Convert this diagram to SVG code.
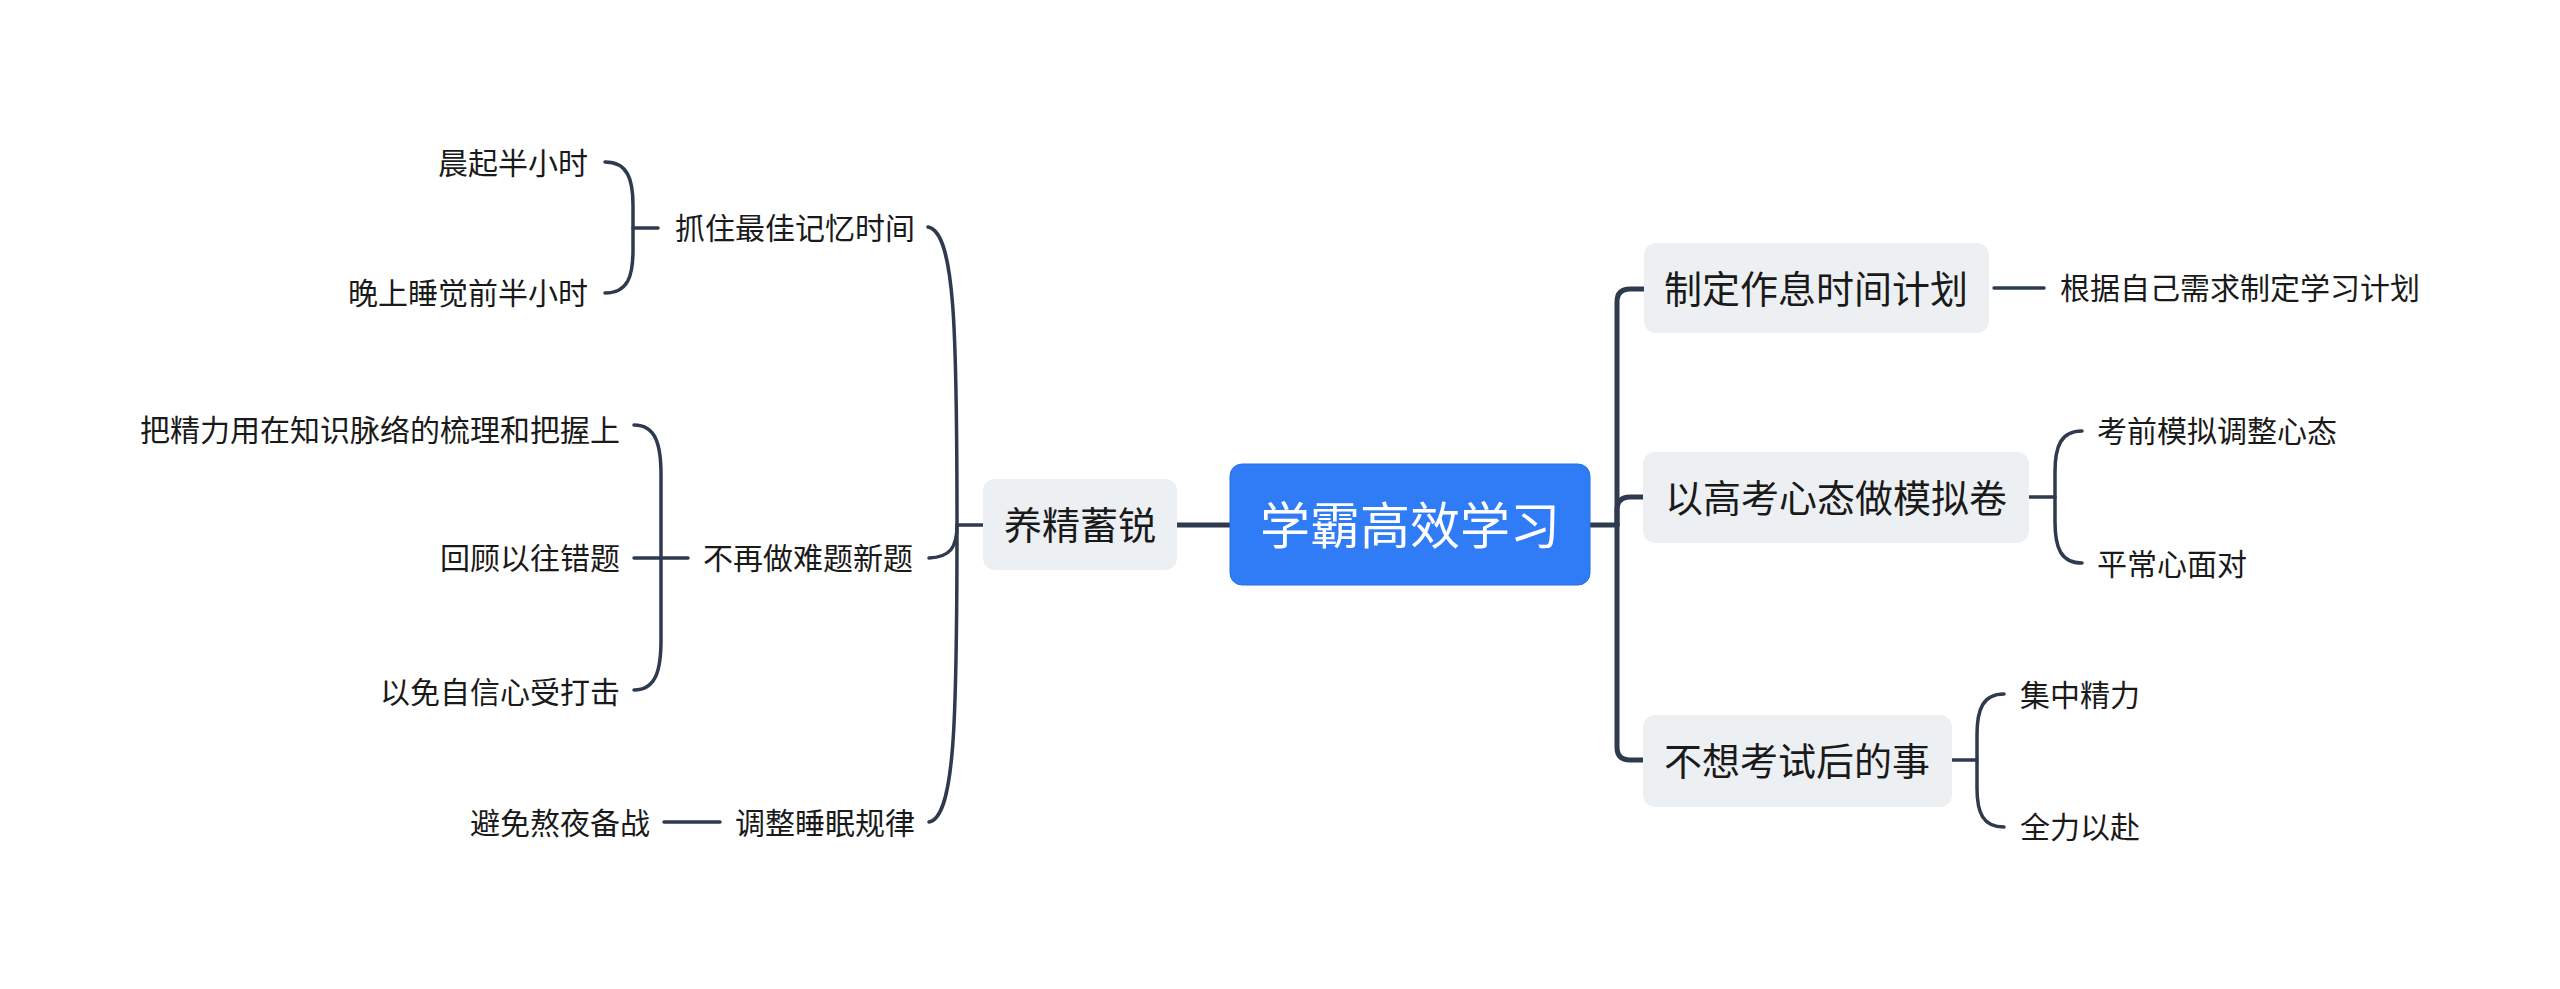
<svg xmlns="http://www.w3.org/2000/svg" width="2560" height="989" viewBox="0 0 2560 989">
<style>
text{font-family:"Noto Sans CJK SC","Noto Sans",sans-serif;fill:#1a1a1a;dominant-baseline:central}
.l0{font-size:50px;fill:#ffffff;text-anchor:middle}
.l1{font-size:38px;text-anchor:middle}
.l2{font-size:30px}
.e{text-anchor:end}
.box{fill:#edf0f3}
.c{fill:none;stroke:#2e3a4e;stroke-linecap:round}
.w1{stroke-width:5}
.w2{stroke-width:3.5}
</style>
<rect width="2560" height="989" fill="#ffffff"/>
<g id="connectors">
  <path class="c w1" d="M1177 525 L1230 525"/>
  <path class="c w2" d="M983 525 L957 525"/>
  <path class="c w2" d="M957 525 C957 330 955 232 928 227"/>
  <path class="c w2" d="M957 525 C957 548 950 557 929 558"/>
  <path class="c w2" d="M957 525 C957 720 955 817 929 822"/>
  <path class="c w2" d="M658 228 L633 228"/>
  <path class="c w2" d="M605 162 C628 162 633 180 633 205 L633 250 C633 276 628 293 605 293"/>
  <path class="c w2" d="M688 558 L634 558"/>
  <path class="c w2" d="M634 425 C656 425 661 445 661 475 L661 640 C661 670 656 690 634 690"/>
  <path class="c w2" d="M720 822 L664 822"/>
  <path class="c w1" d="M1590 525 L1617 525"/>
  <path class="c w1" d="M1617 525 L1617 302 Q1617 289 1630 289 L1644 289"/>
  <path class="c w1" d="M1617 525 L1617 510 Q1617 497 1630 497 L1643 497"/>
  <path class="c w1" d="M1617 525 L1617 747 Q1617 760 1630 760 L1643 760"/>
  <path class="c w2" d="M1994 288 L2044 288"/>
  <path class="c w2" d="M2029 497 L2055 497"/>
  <path class="c w2" d="M2082 431 C2061 431 2055 446 2055 472 L2055 522 C2055 548 2061 563 2082 563"/>
  <path class="c w2" d="M1952 760 L1977 760"/>
  <path class="c w2" d="M2004 694 C1983 694 1977 709 1977 735 L1977 788 C1977 813 1983 827 2004 827"/>
</g>
<g id="root">
  <rect x="1230" y="464" width="360" height="121" rx="12" fill="#2f7cf6" stroke="#2a6fe0" stroke-width="1"/>
  <text class="l0" x="1410" y="522">学霸高效学习</text>
</g>
<g id="n-yangjing">
  <rect class="box" x="983" y="479" width="194" height="91" rx="12"/>
  <text class="l1" x="1080" y="522">养精蓄锐</text>
</g>
<g id="n-zhuazhu">
  <text class="l2" x="675" y="226">抓住最佳记忆时间</text>
</g>
<g id="n-chenqi">
  <text class="l2 e" x="588" y="161">晨起半小时</text>
</g>
<g id="n-wanshang">
  <text class="l2 e" x="588" y="291">晚上睡觉前半小时</text>
</g>
<g id="n-buzai">
  <text class="l2" x="703" y="556">不再做难题新题</text>
</g>
<g id="n-bajingli">
  <text class="l2 e" x="620" y="428">把精力用在知识脉络的梳理和把握上</text>
</g>
<g id="n-huigu">
  <text class="l2 e" x="620" y="556">回顾以往错题</text>
</g>
<g id="n-yimian">
  <text class="l2 e" x="620" y="690">以免自信心受打击</text>
</g>
<g id="n-tiaozheng">
  <text class="l2" x="735" y="821">调整睡眠规律</text>
</g>
<g id="n-bimian">
  <text class="l2 e" x="650" y="821">避免熬夜备战</text>
</g>
<g id="n-zhiding">
  <rect class="box" x="1644" y="243" width="345" height="90" rx="12"/>
  <text class="l1" x="1816" y="286">制定作息时间计划</text>
</g>
<g id="n-genju">
  <text class="l2" x="2060" y="286">根据自己需求制定学习计划</text>
</g>
<g id="n-yigaokao">
  <rect class="box" x="1643" y="452" width="386" height="91" rx="12"/>
  <text class="l1" x="1836" y="495">以高考心态做模拟卷</text>
</g>
<g id="n-kaoqian">
  <text class="l2" x="2097" y="429">考前模拟调整心态</text>
</g>
<g id="n-pingchang">
  <text class="l2" x="2097" y="562">平常心面对</text>
</g>
<g id="n-buxiang">
  <rect class="box" x="1643" y="715" width="309" height="92" rx="12"/>
  <text class="l1" x="1797" y="758">不想考试后的事</text>
</g>
<g id="n-jizhong">
  <text class="l2" x="2020" y="693">集中精力</text>
</g>
<g id="n-quanli">
  <text class="l2" x="2020" y="825">全力以赴</text>
</g>
</svg>
